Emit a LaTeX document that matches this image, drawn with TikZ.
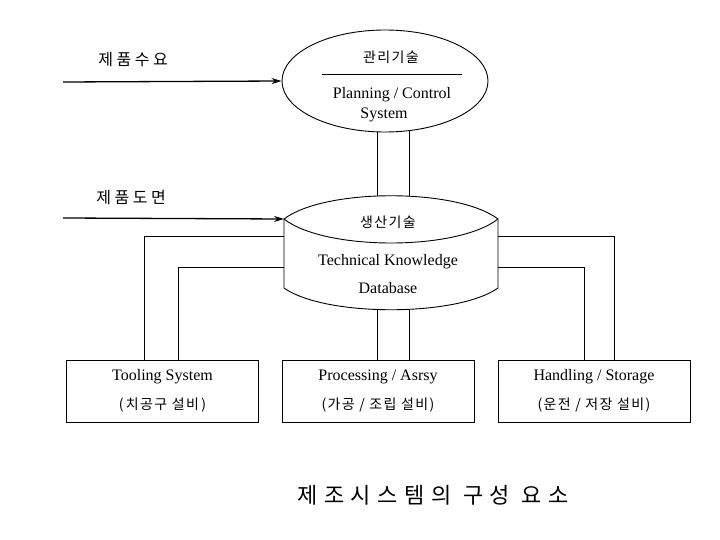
\documentclass[tikz,border=0pt]{standalone}
\usepackage{fontspec}
\setmainfont{Liberation Serif}
\newfontfamily\krfont{Noto Sans CJK KR}
\usetikzlibrary{shapes.geometric,arrows.meta,backgrounds}
\begin{document}
\begin{tikzpicture}[x=1pt,y=-1pt,
  lw/.style={line width=0.9pt},
  en/.style={font=\fontsize{16}{18}\selectfont, inner sep=0},
  krs/.style={font=\krfont\addfontfeature{LetterSpace=10}\fontsize{14}{16}\selectfont, inner sep=0},
  krl/.style={font=\krfont\addfontfeature{LetterSpace=22}\fontsize{16}{18}\selectfont, inner sep=0},
  unit/.style={draw, lw, fill=white, minimum width=192pt, minimum height=62pt, inner sep=0},
  inarrow/.style={-{Stealth[length=10pt,width=6pt]}, line width=1.3pt}]
\useasboundingbox (0,0) rectangle (720,540);

% planning ellipse
\node[draw, lw, fill=white, ellipse, minimum width=206pt, minimum height=102pt, inner sep=0] (plan) at (385,81) {};
\draw[lw] (322,74) -- (462,74);
\node[krs] (plankr) at (391,57) {관리기술};
\node[en] (plan1) at (392,95) {Planning / Control};
\node[en] (plan2) at (384,115) {System};

% database cylinder
\node[minimum width=214pt, minimum height=114pt, inner sep=0] (db) at (391,253) {};
\coordinate (dbTL) at (284,219);
\coordinate (dbTR) at (498,219);
\coordinate (dbBL) at (284,288);
\coordinate (dbBR) at (498,288);
\draw[lw, fill=white] (dbTL) .. controls (325,188) and (457,188) .. (dbTR)
   -- (dbBR) .. controls (457,317) and (325,317) .. (dbBL) -- cycle;
\draw[lw] (dbTL) .. controls (325,251) and (457,251) .. (dbTR);
\node[krs] (dbkr) at (388,222) {생산기술};
\node[en] (db1) at (388,262) {Technical Knowledge};
\node[en] (db2) at (388,288) {Database};

% unit boxes
\node[unit] (tool) at (162.5,391) {};
\node[unit] (proc) at (378,391) {};
\node[unit] (hand) at (594,391) {};
\node[en] at (162.5,377) {Tooling System};
\node[krs] at (162.5,405) {(\,치공구 설비\,)};
\node[en] at (378,377) {Processing / Asrsy};
\node[krs] at (378,405) {(가공 / 조립 설비)};
\node[en] at (594,377) {Handling / Storage};
\node[krs] at (594,405) {(운전 / 저장 설비)};

% connectors (behind the shapes)
\coordinate (M1) at (377,0);
\coordinate (M2) at (409,0);
\coordinate (L1) at (144,236);
\coordinate (L2) at (178,267);
\coordinate (R1) at (614,236);
\coordinate (R2) at (584,267);
\begin{pgfonlayer}{background}
\draw[lw] (plan.center -| M1) -- (proc.center -| M1);
\draw[lw] (plan.center -| M2) -- (proc.center -| M2);
\draw[lw] (db.center |- L1) -| (tool.center -| L1);
\draw[lw] (db.center |- L2) -| (tool.center -| L2);
\draw[lw] (db.center |- R1) -| (hand.center -| R1);
\draw[lw] (db.center |- R2) -| (hand.center -| R2);
\end{pgfonlayer}

% inputs
\coordinate (in1) at (63,82);
\coordinate (in2) at (63,218);
\draw[inarrow] (in1) -- (plan.west);
\draw[inarrow] (in2) -- (dbTL);
\node[krl] (lab1) at (133,60) {제품수요};
\node[krl] (lab2) at (131,198) {제품도면};

% title
\node[font=\krfont\addfontfeature{LetterSpace=30}\fontsize{22}{24}\selectfont, inner sep=0] (title) at (433,495) {제조시스템의 구성 요소};
\end{tikzpicture}
\end{document}
